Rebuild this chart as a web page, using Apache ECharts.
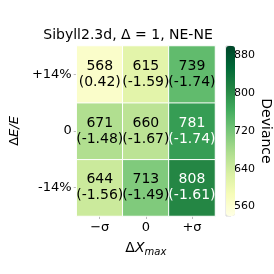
<!DOCTYPE html>
<html><head><meta charset="utf-8">
<script src="https://cdn.jsdelivr.net/npm/echarts@6/dist/echarts.min.js"></script>
<style>html,body{margin:0;padding:0;background:#fff}#c{width:274px;height:274px}</style>
</head><body><div id="c"></div>
<script>
const xCategories = ['\u2212\u03c3', '0', '+\u03c3'];
const yCategories = ['-14%', '0', '+14%'];
// rows bottom to top: -14%, 0, +14%
const devRowM14 = [644, 713, 808];
const devRow0 = [671, 660, 781];
const devRowP14 = [568, 615, 739];
const parRowM14 = [-1.56, -1.49, -1.61];
const parRow0 = [-1.48, -1.67, -1.74];
const parRowP14 = [0.42, -1.59, -1.74];
const cbarTicks = [560, 640, 720, 800, 880];
const cMin = 540, cMax = 900;

const devRows = [devRowM14, devRow0, devRowP14];
const parRows = [parRowM14, parRow0, parRowP14];
const data = [];
for (let yi = 0; yi < 3; yi++) for (let xi = 0; xi < 3; xi++) {
  const v = devRows[yi][xi];
  data.push({ value: [xi, yi, v, parRows[yi][xi]],
    label: { color: v > 760 ? '#fff' : '#000' } });
}
const YlGn = ['#ffffe5','#f7fcb9','#d9f0a3','#addd8e','#78c679','#41ab5d','#238443','#006837','#004529'];
const F = 'DejaVu Sans';
const chart = echarts.init(document.getElementById('c'));
chart.setOption({
  animation: false,
  textStyle: { fontFamily: F },
  title: { text: 'Sibyll2.3d, \u0394 = 1, NE-NE', left: 123, top: 23, textAlign: 'center',
    textStyle: { fontFamily: F, fontSize: 14, fontWeight: 'normal', color: '#000' } },
  grid: [
    { left: 47, top: 46, width: 168, height: 170 },
    { left: 226, top: 46, width: 9, height: 170, show: true, borderColor: '#ccc', borderWidth: 0.8 }
  ],
  xAxis: [
    { type: 'category', data: xCategories, gridIndex: 0,
      axisLine: { show: false }, axisTick: { show: true, length: 3, lineStyle: { color: '#bbb' }, alignWithLabel: true },
      axisLabel: { fontSize: 13, color: '#000', margin: 5, fontFamily: F },
      name: '{a|\u0394}{b|X}{s|max}', nameLocation: 'middle', nameGap: 23,
      nameTextStyle: { rich: {
        a: { fontSize: 14, fontFamily: F, color: '#000' },
        b: { fontSize: 14, fontFamily: F, fontStyle: 'italic', color: '#000' },
        s: { fontSize: 10, fontFamily: F, fontStyle: 'italic', color: '#000', padding: [8, 0, 0, 0] } } } },
    { type: 'value', gridIndex: 1, show: false, min: 0, max: 1 }
  ],
  yAxis: [
    { type: 'category', data: yCategories, gridIndex: 0,
      axisLine: { show: false }, axisTick: { show: true, length: 3, lineStyle: { color: '#bbb' }, alignWithLabel: true },
      axisLabel: { fontSize: 13, color: '#000', margin: 5, fontFamily: F },
      name: '{a|\u0394}{b|E/E}', nameLocation: 'middle', nameGap: 30, nameRotate: 90,
      nameTextStyle: { rich: {
        a: { fontSize: 13, fontFamily: F, color: '#000' },
        b: { fontSize: 13, fontFamily: F, fontStyle: 'italic', color: '#000' } } } },
    { type: 'value', gridIndex: 1, min: cMin, max: cMax, position: 'right',
      axisLine: { show: false }, splitLine: { show: false },
      axisTick: { show: true, length: 3, lineStyle: { color: '#333' }, customValues: cbarTicks },
      axisLabel: { fontSize: 11, color: '#000', margin: 3, fontFamily: F, customValues: cbarTicks },
      name: 'Deviance', nameLocation: 'middle', nameGap: 25, nameRotate: -90,
      nameTextStyle: { fontSize: 14, fontFamily: F, color: '#000' } }
  ],
  visualMap: { type: 'continuous', min: cMin, max: cMax, dimension: 2, seriesIndex: 0,
    show: true, calculable: false, orient: 'vertical', left: 226, top: 46,
    itemWidth: 9, itemHeight: 170, padding: 0, text: null, showLabel: false,
    inRange: { color: YlGn } },
  series: [
    { type: 'heatmap', xAxisIndex: 0, yAxisIndex: 0, data: data,
      itemStyle: { borderColor: '#fff', borderWidth: 1 },
      label: { show: true, fontSize: 14, fontFamily: F, lineHeight: 16,
        formatter: p => p.value[2] + '\n(' + p.value[3].toFixed(2) + ')' } },
    { type: 'scatter', xAxisIndex: 1, yAxisIndex: 1, data: [] }
  ]
});
</script></body></html>
